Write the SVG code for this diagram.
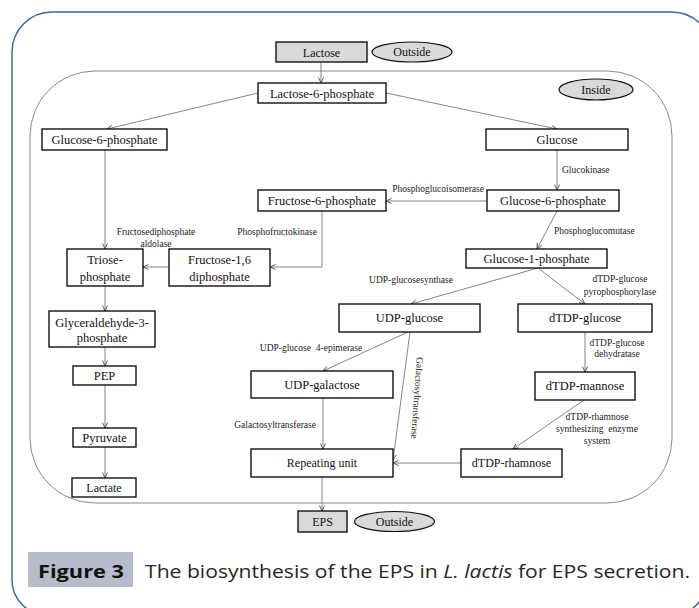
<svg xmlns="http://www.w3.org/2000/svg" width="699" height="608" viewBox="0 0 699 608">
<defs>
<marker id="arr" markerUnits="userSpaceOnUse" markerWidth="8" markerHeight="8" refX="6" refY="3" orient="auto" viewBox="0 0 8 6">
<path d="M0.5,0.5 L6,3 L0.5,5.5" fill="none" stroke="#333" stroke-width="0.8"/>
</marker>
<style>
.box{fill:#fff;stroke:#111;stroke-width:1.4}
.gbox{fill:#d9d9d9;stroke:#111;stroke-width:1.4}
.t{font-size:12.5px;fill:#111;text-anchor:middle}
.ts{font-size:12px;fill:#111;text-anchor:middle}
.e{font-size:9.5px;fill:#222}
.c{fill:none;stroke:#666;stroke-width:0.8;marker-end:url(#arr)}
</style>
</defs>
<rect width="699" height="608" fill="#fff"/>
<path d="M12,52 A40,40 0 0 1 52,12 L672,12 A40,40 0 0 1 712,52 L707,580 A35,35 0 0 1 672,615 L47,615 A35,35 0 0 1 12,580 Z" fill="none" stroke="#3b6aa0" stroke-width="1.5"/>
<rect x="30" y="71" width="642" height="432" rx="65" ry="65" fill="none" stroke="#888" stroke-width="1"/>

<g id="connectors">
<path class="c" d="M321,62 L321,83"/>
<path class="c" d="M258,93 L107,129"/>
<path class="c" d="M386,93 L557,129"/>
<path class="c" d="M105,150 L105,249"/>
<path class="c" d="M557,150 L557,190"/>
<path class="c" d="M487,201 L386,201"/>
<path class="c" d="M322,211 L322,267 L270,267"/>
<path class="c" d="M169,267 L143,267"/>
<path class="c" d="M557,211 L537,249"/>
<path class="c" d="M538,268 L411,304"/>
<path class="c" d="M538,268 L585,304"/>
<path class="c" d="M585,332 L585,372"/>
<path class="c" d="M584,400 L513,449"/>
<path class="c" d="M461,463 L393,463"/>
<path class="c" d="M408,332 L323,371"/>
<path class="c" d="M410,332 L393,460"/>
<path class="c" d="M323,398 L323,449"/>
<path class="c" d="M105,286 L105,311"/>
<path class="c" d="M105,347 L105,366"/>
<path class="c" d="M105,385 L105,428"/>
<path class="c" d="M105,447 L105,478"/>
<path class="c" d="M322,477 L322,511"/>
</g>

<g id="diagram-text" font-family="Liberation Serif, Times New Roman, serif">
<g id="labels">
<text class="e" x="484" y="192" text-anchor="end">Phosphoglucoisomerase</text>
<text class="e" x="562" y="173">Glucokinase</text>
<text class="e" x="317" y="235" text-anchor="end">Phosphofructokinase</text>
<text class="e" x="156" y="235" text-anchor="middle">Fructosediphosphate</text>
<text class="e" x="156" y="247" text-anchor="middle">aldolase</text>
<text class="e" x="554" y="234">Phosphoglucomutase</text>
<text class="e" x="411" y="283" text-anchor="middle">UDP-glucosesynthase</text>
<text class="e" x="620" y="282" text-anchor="middle">dTDP-glucose</text>
<text class="e" x="620" y="295" text-anchor="middle">pyrophosphorylase</text>
<text class="e" x="617" y="346" text-anchor="middle">dTDP-glucose</text>
<text class="e" x="617" y="357" text-anchor="middle">dehydratase</text>
<text class="e" x="597" y="420" text-anchor="middle">dTDP-rhamnose</text>
<text class="e" x="597" y="432" text-anchor="middle" xml:space="preserve">synthesizing  enzyme</text>
<text class="e" x="597" y="444" text-anchor="middle">system</text>
<text class="e" x="311" y="351" text-anchor="middle" xml:space="preserve">UDP-glucose  4-epimerase</text>
<text class="e" x="316" y="428" text-anchor="end">Galactosyltransferase</text>
<text class="e" text-anchor="middle" transform="translate(417,398) rotate(94)" y="3">Galactosyltransferase</text>
</g>

<g id="lactose"><rect class="gbox" x="276" y="42" width="91" height="20"/><text class="ts" x="321.5" y="56.5">Lactose</text></g>
<g id="outside-top"><ellipse cx="412" cy="52" rx="40" ry="10" fill="#d9d9d9" stroke="#111" stroke-width="1.2"/><text class="ts" x="412" y="56">Outside</text></g>
<g id="inside"><ellipse cx="596" cy="89.5" rx="37" ry="10.5" fill="#d9d9d9" stroke="#111" stroke-width="1.2"/><text class="ts" x="596" y="93.5">Inside</text></g>
<g id="lactose6p"><rect class="box" x="258" y="83" width="128" height="20"/><text class="t" x="322" y="97.5">Lactose-6-phosphate</text></g>
<g id="g6p-left"><rect class="box" x="42" y="129" width="125" height="21"/><text class="t" x="104.5" y="144">Glucose-6-phosphate</text></g>
<g id="glucose"><rect class="box" x="486" y="129" width="142" height="21"/><text class="t" x="557" y="144">Glucose</text></g>
<g id="f6p"><rect class="box" x="258" y="190" width="128" height="21"/><text class="t" x="322" y="205">Fructose-6-phosphate</text></g>
<g id="g6p-right"><rect class="box" x="487" y="190" width="132" height="21"/><text class="t" x="553" y="205">Glucose-6-phosphate</text></g>
<g id="triose"><rect class="box" x="67" y="249" width="76" height="37"/><text class="t" x="105" y="264">Triose-</text><text class="t" x="105" y="281">phosphate</text></g>
<g id="f16dp"><rect class="box" x="169" y="249" width="101" height="37"/><text class="t" x="219.5" y="264">Fructose-1,6</text><text class="t" x="219.5" y="281">diphosphate</text></g>
<g id="g1p"><rect class="box" x="466" y="249" width="141" height="19"/><text class="t" x="536.5" y="263">Glucose-1-phosphate</text></g>
<g id="udp-glucose"><rect class="box" x="339" y="304" width="141" height="28"/><text class="t" x="409.5" y="322">UDP-glucose</text></g>
<g id="dtdp-glucose"><rect class="box" x="518" y="304" width="134" height="28"/><text class="t" x="585" y="322">dTDP-glucose</text></g>
<g id="g3p"><rect class="box" x="49" y="311" width="106" height="36"/><text class="t" x="102" y="327">Glyceraldehyde-3-</text><text class="t" x="102" y="342">phosphate</text></g>
<g id="udp-galactose"><rect class="box" x="251" y="371" width="142" height="27"/><text class="t" x="322" y="389">UDP-galactose</text></g>
<g id="dtdp-mannose"><rect class="box" x="535" y="372" width="100" height="28"/><text class="t" x="585" y="390">dTDP-mannose</text></g>
<g id="pep"><rect class="box" x="73" y="366" width="63" height="19"/><text class="t" x="104.5" y="380">PEP</text></g>
<g id="pyruvate"><rect class="box" x="73" y="428" width="63" height="19"/><text class="t" x="104.5" y="442">Pyruvate</text></g>
<g id="repeating-unit"><rect class="box" x="251" y="449" width="142" height="28"/><text class="ts" x="322" y="467">Repeating unit</text></g>
<g id="dtdp-rhamnose"><rect class="box" x="461" y="449" width="101" height="28"/><text class="ts" x="511.5" y="467">dTDP-rhamnose</text></g>
<g id="lactate"><rect class="box" x="72" y="478" width="64" height="19"/><text class="ts" x="104" y="492">Lactate</text></g>
<g id="eps"><rect class="gbox" x="298" y="511" width="49" height="21"/><text class="ts" x="322.5" y="526">EPS</text></g>
<g id="outside-bottom"><ellipse cx="394.5" cy="521.5" rx="40" ry="10" fill="#d9d9d9" stroke="#111" stroke-width="1.2"/><text class="ts" x="394.5" y="525.5">Outside</text></g>
</g>

<g id="caption">
<rect x="28" y="552" width="105" height="35" fill="#b7bccb"/>
<text x="38" y="578" font-family="Open Sans, Noto Sans, sans-serif" font-weight="bold" font-size="18" fill="#111" textLength="86" lengthAdjust="spacingAndGlyphs">Figure 3</text>
<text x="145" y="578" font-family="Open Sans, Noto Sans, sans-serif" font-size="17.5" fill="#262626" textLength="545" lengthAdjust="spacingAndGlyphs">The biosynthesis of the EPS in <tspan font-style="italic">L. lactis</tspan> for EPS secretion.</text>
</g>
</svg>
